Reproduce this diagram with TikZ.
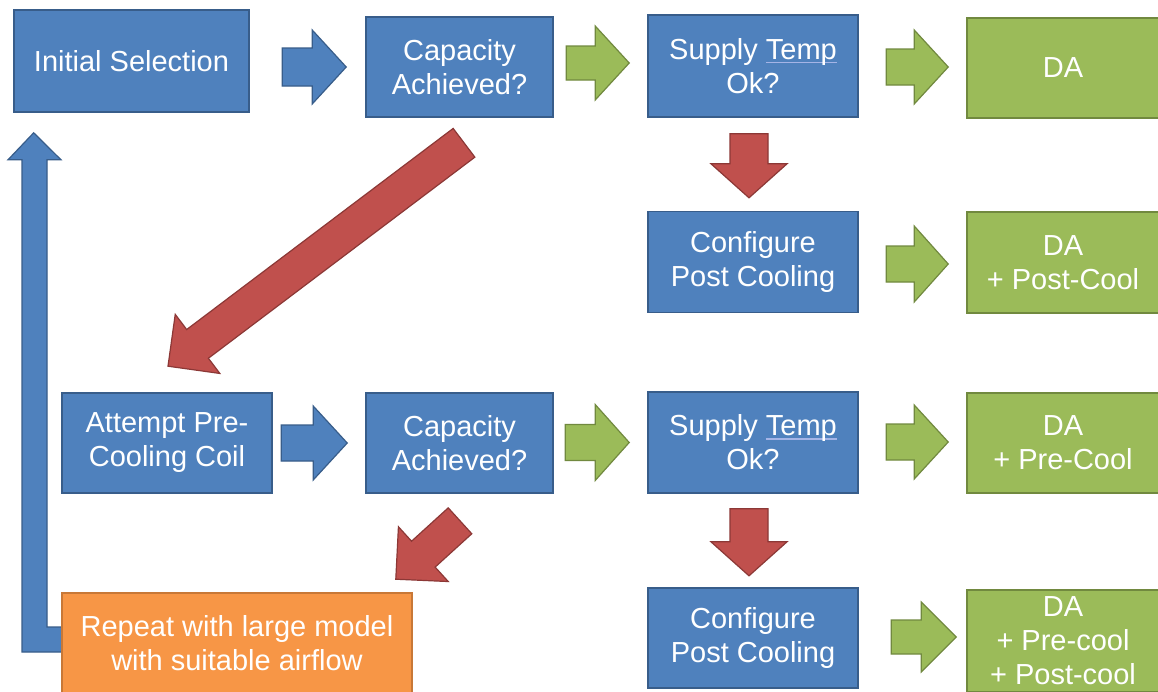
\documentclass[tikz,border=0pt]{standalone}
\usepackage{fontspec}
\setmainfont{Liberation Sans}
\usetikzlibrary{calc,backgrounds}
\definecolor{boxblue}{RGB}{79,129,189}
\definecolor{boxblueD}{RGB}{56,93,138}
\definecolor{boxgreen}{RGB}{155,187,89}
\definecolor{boxgreenD}{RGB}{113,137,63}
\definecolor{boxred}{RGB}{192,80,77}
\definecolor{boxredD}{RGB}{140,56,54}
\definecolor{boxorange}{RGB}{247,150,70}
\definecolor{boxorangeD}{RGB}{200,120,55}
\definecolor{ulblue}{RGB}{165,180,230}
\newcommand\tempul{\leavevmode\setbox0\hbox{Temp}\rlap{\textcolor{ulblue}{\rule[-4pt]{\wd0}{1.8pt}}}\box0}
% block arrow: style, from, to, shaft half width, head half width, head length
\newcommand\blockarrow[6]{%
  \path[#1] let \p1=($(#3)-(#2)$), \n1={veclen(\x1,\y1)}, \n2={atan2(\y1,\x1)},
    \p2=($(#2)+(\n2:{(\n1-#6)*1pt})$) in
    ($(#2)+(\n2-90:#4pt)$) -- ($(\p2)+(\n2-90:#4pt)$) -- ($(\p2)+(\n2-90:#5pt)$) --
    (#3) -- ($(\p2)+(\n2+90:#5pt)$) -- ($(\p2)+(\n2+90:#4pt)$) --
    ($(#2)+(\n2+90:#4pt)$) -- cycle;}
\begin{document}
\begin{tikzpicture}[x=1pt,y=-1pt,
  box/.style={draw, line width=1.6pt, align=center, text=white, inner sep=0pt,
    font=\fontsize{29}{34}\selectfont},
  bluebox/.style={box, fill=boxblue, draw=boxblueD},
  greenbox/.style={box, fill=boxgreen, draw=boxgreenD},
  orangebox/.style={box, fill=boxorange, draw=boxorangeD},
  bluearr/.style={fill=boxblue, draw=boxblueD, line width=1.2pt, line join=miter},
  greenarr/.style={fill=boxgreen, draw=boxgreenD, line width=1.2pt, line join=miter},
  redarr/.style={fill=boxred, draw=boxredD, line width=1.2pt, line join=miter}]
\useasboundingbox (0,0) rectangle (1158,691);

% boxes
\node[bluebox, minimum width=235pt, minimum height=102pt] (init) at (131.5,61) {Initial Selection};
\node[bluebox, minimum width=187pt, minimum height=100pt] (cap1) at (459.5,67) {Capacity\\Achieved?};
\node[bluebox, minimum width=210pt, minimum height=102pt] (sup1) at (753,66) {Supply \tempul\\Ok?};
\node[greenbox, minimum width=192pt, minimum height=100pt] (da1) at (1063,68) {DA};
\node[bluebox, minimum width=210pt, minimum height=101pt] (cfg1) at (753,262) {Configure\\Post Cooling};
\node[greenbox, minimum width=192pt, minimum height=101pt] (da2) at (1063,262.5) {DA\\+ Post-Cool};
\node[bluebox, minimum width=210pt, minimum height=100pt] (att) at (167,443) {Attempt Pre-\\Cooling Coil};
\node[bluebox, minimum width=187pt, minimum height=100pt] (cap2) at (459.5,443) {Capacity\\Achieved?};
\node[bluebox, minimum width=210pt, minimum height=101pt] (sup2) at (753,442.5) {Supply \tempul\\Ok?};
\node[greenbox, minimum width=192pt, minimum height=100pt] (da3) at (1063,443) {DA\\+ Pre-Cool};
\node[bluebox, minimum width=210pt, minimum height=100pt] (cfg2) at (753,638) {Configure\\Post Cooling};
\node[greenbox, minimum width=192pt, minimum height=102pt] (da4) at (1063,641) {DA\\+ Pre-cool\\+ Post-cool};
\node[orangebox, minimum width=350pt, minimum height=100pt] (rep) at (237,643) {Repeat with large model\\with suitable airflow};

% arrow end points, placed from the boxes
\coordinate (a1s) at ($(cap1.west)+(-83,0)$);  \coordinate (a1e) at ($(cap1.west)+(-19,0)$);
\coordinate (a2s) at ($(sup1.west)+(-81,-3)$); \coordinate (a2e) at ($(sup1.west)+(-18,-3)$);
\coordinate (a3s) at ($(da1.west)+(-80,-1)$);  \coordinate (a3e) at ($(da1.west)+(-18,-1)$);
\coordinate (a4s) at ($(sup1.south)+(-4,16)$); \coordinate (a4e) at ($(sup1.south)+(-4,80)$);
\coordinate (a5s) at ($(da2.west)+(-80,1.5)$); \coordinate (a5e) at ($(da2.west)+(-18,1.5)$);
\coordinate (a6s) at ($(cap1.south)+(4.5,25)$); \coordinate (a6e) at ($(att.north)+(1,-26)$);
\coordinate (a7s) at ($(cap2.west)+(-84,0)$);  \coordinate (a7e) at ($(cap2.west)+(-18,0)$);
\coordinate (a8s) at ($(sup2.west)+(-82,0)$);  \coordinate (a8e) at ($(sup2.west)+(-18,0)$);
\coordinate (a9s) at ($(da3.west)+(-80,-1)$);  \coordinate (a9e) at ($(da3.west)+(-18,-1)$);
\coordinate (a10s) at ($(sup2.south)+(-4,15)$); \coordinate (a10e) at ($(sup2.south)+(-4,82)$);
\coordinate (a11s) at ($(da4.west)+(-75,-4)$); \coordinate (a11e) at ($(da4.west)+(-10,-4)$);
\coordinate (a12s) at ($(cap2.south)+(0.5,27)$); \coordinate (a12e) at ($(rep.north east)+(-17,-13)$);

\blockarrow{bluearr}{a1s}{a1e}{19}{37}{34}
\blockarrow{greenarr}{a2s}{a2e}{17}{37}{34}
\blockarrow{greenarr}{a3s}{a3e}{18}{37}{34}
\blockarrow{redarr}{a4s}{a4e}{19}{38}{34}
\blockarrow{greenarr}{a5s}{a5e}{18}{38}{34}
\blockarrow{redarr}{a6s}{a6e}{18}{37}{37}
\blockarrow{bluearr}{a7s}{a7e}{18}{37}{34}
\blockarrow{greenarr}{a8s}{a8e}{18}{38}{34}
\blockarrow{greenarr}{a9s}{a9e}{18}{37}{34}
\blockarrow{redarr}{a10s}{a10e}{19}{38}{34}
\blockarrow{greenarr}{a11s}{a11e}{17}{35}{35}
\blockarrow{redarr}{a12s}{a12e}{17.5}{37}{37}

% loop arrow from the orange box back up to the initial selection
\coordinate (lpin) at ($(rep.west)+(2,-16)$);
\coordinate (lpout) at ($(rep.west)+(2,9)$);
\coordinate (lptip) at ($(init.south west)+(20.5,20)$);
\coordinate (lphb) at ($(lptip)+(0,27)$);
\begin{scope}[on background layer]
\fill[white] (0,0) rectangle (1158,691);
\path[bluearr] (lpin) -- (lpin -| 47,0) -- (47,0 |- lphb) -- (61,0 |- lphb)
  -- (lptip) -- (8,0 |- lphb) -- (22,0 |- lphb) -- (22,0 |- lpout) -- (lpout) -- cycle;
\end{scope}
\end{tikzpicture}
\end{document}
